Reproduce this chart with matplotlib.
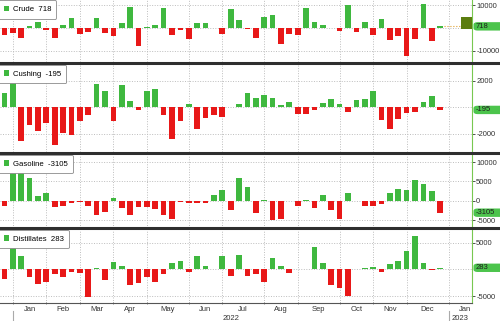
import numpy as np
import matplotlib.pyplot as plt
from matplotlib.patches import Patch, Rectangle, FancyBboxPatch
from matplotlib.lines import Line2D

plt.rcParams['font.family'] = ['Liberation Sans', 'DejaVu Sans']

# weekly changes, thousand barrels (week ending Dec 24 2021 .. Dec 23 2022)
crude = [-3200, -2000, -4500, 700, 2500, -900, -4500, 1200, 4500, -2500,
         -1700, 4200, -2300, -3300, 2300, 9300, -7800, 600, 1500, 8500,
         -3200, -900, -4900, 2200, 2200, 100, -2500, 8400, 3300, -400,
         -4200, 4600, 5500, -6800, -2800, -2900, 8800, 2500, 1200, -100,
         -1200, 10000, -1600, 2600, -2900, 3900, -5100, -3500, -12400, -4900,
         10500, -5700, 718]
cushing = [1050, 1800, -2500, -1300, -1800, -1200, -2800, -1900, -2050, -1000,
           -550, 1750, 1200, -1050, 1650, 450, -200, 1250, 1350, -550,
           -2400, -1050, 220, -1600, -800, -600, -750, 30, 280, 1100,
           725, 900, 700, 150, 400, -525, -475, -175, 300, 625,
           225, -325, 550, 650, 1225, -950, -1650, -875, -400, -375,
           400, 825, -195]
gasoline = [-1500, 10100, 8000, 5900, 1300, 2070, -1600, -1400, -500, -400,
            -1400, -3600, -2900, 700, -2000, -3600, -1700, -1700, -2200, -3600,
            -4800, -400, -700, -700, -700, 1400, 2750, -2500, 5800, 3500,
            -3300, 100, -5000, -4800, -100, -1300, 300, -1800, 1600, -2500,
            -4800, 2000, -100, -1500, -1300, -950, 2100, 3000, 2700, 5400,
            4400, 2500, -3105]
distillates = [-1750, 4400, 2550, -1350, -2750, -2400, -850, -1500, -550, -600,
               -5250, 250, -2050, 1400, 700, -2900, -2600, -1350, -2350, -850,
               1200, 1600, -450, 2550, 700, 100, 2550, -1200, 2700, -1300,
               -900, -2450, 2050, 700, -600, 50, 100, 4100, 1150, -2900,
               -3550, -4900, 100, 150, 400, -500, 1000, 1600, 3500, 6200,
               1250, -200, 283]

names = ["Crude", "Cushing", "Gasoline", "Distillates"]
series = [crude, cushing, gasoline, distillates]
ylims = [(-14800, 12200), (-3350, 3210), (-7070, 11970), (-6300, 7440)]
yticks = [[-10000, 10000], [-2000, 2000], [-5000, 0, 5000, 10000], [-5000, 5000]]
# pixel rows (top, bottom) of each panel
rows = [(0, 62), (64.5, 152), (154.5, 228), (229.5, 303)]

months = ["Jan", "Feb", "Mar", "Apr", "May", "Jun", "Jul", "Aug", "Sep",
          "Oct", "Nov", "Dec", "Jan"]
month_lines = [1, 5, 9, 13, 17, 22, 26, 31, 35, 40, 44, 48, 53, 57]

GREEN = '#3fb83f'
RED = '#e81818'
W, H = 500, 321

fig = plt.figure(figsize=(5, 3.21), dpi=100)
axes = []
for name, vals, yl, yt, (top, bot) in zip(names, series, ylims, yticks, rows):
    ax = fig.add_axes([0, 1 - bot / H, 472 / W, (bot - top) / H])
    axes.append(ax)
    x = np.arange(len(vals))
    v = np.array(vals)
    ax.bar(x, v, width=0.68, color=np.where(v >= 0, GREEN, RED), zorder=2)
    ax.set_xlim(-0.53, 55.8)
    ax.set_ylim(*yl)
    for gx in month_lines[:-1]:
        ax.axvline(gx, color='#bdbdbd', ls=(0, (1, 1.6)), lw=0.7, zorder=1)
    for gy in set(yt) | {0}:
        ax.axhline(gy, color='#bdbdbd', ls=(0, (1, 1.6)), lw=0.7, zorder=1)
    ax.yaxis.tick_right()
    ax.set_yticks(yt)
    ax.set_yticklabels([str(t) for t in yt])
    ax.tick_params(axis='y', labelsize=5.5, length=2, width=0.6,
                   colors='#333333', pad=1)
    ax.set_xticks([])
    for s in ['top', 'left', 'bottom']:
        ax.spines[s].set_visible(False)
    ax.spines['right'].set_color('#78c850')
    ax.spines['right'].set_linewidth(0.8)
    last = vals[-1]
    leg = ax.legend(handles=[Patch(fc=GREEN, ec='none')],
                    labels=[f"{name}  {last}"], loc='upper left',
                    bbox_to_anchor=(-0.004, 0.995), fontsize=5.6,
                    handlelength=0.75, handleheight=0.75, handletextpad=0.4,
                    borderpad=0.7, borderaxespad=0, fancybox=True,
                    framealpha=1, edgecolor='#8a8a8a')
    leg.get_frame().set_linewidth(0.6)
    leg.set_zorder(6)
    # green value pill on the right axis
    ypx = ax.transData.transform((0, last))[1]
    fig.add_artist(FancyBboxPatch((473.5 / W, (ypx - 4.2) / H), 40 / W, 8.4 / H,
                                  boxstyle='round,pad=0,rounding_size=0.008',
                                  transform=fig.transFigure, fc='#4cc44c',
                                  ec='none', zorder=7))
    fig.text(476 / W, ypx / H, f"{last}", ha='left', va='center',
             fontsize=5.5, color='#1e1e1e', zorder=8)

# crude: latest marker box and guide line
ax0 = axes[0]
ax0.add_patch(Rectangle((54.5, -400), 1.3, 5200, fc='#5b7d0f', ec='none', zorder=3))
ax0.plot([52.4, 54.5], [crude[-1], crude[-1]], ls=':', color='#e0a030', lw=0.8, zorder=3)

# bottom axis
axb = axes[-1]
axb.spines['bottom'].set_visible(True)
axb.spines['bottom'].set_color('#555555')
axb.spines['bottom'].set_linewidth(0.8)
mids = [(a + b) / 2 for a, b in zip(month_lines[:-1], month_lines[1:])]
axb.set_xticks(mids)
axb.set_xticklabels(months)
axb.tick_params(axis='x', length=0, labelsize=5.5, colors='#333333', pad=2.3)
axb.set_xticks(month_lines[:-1], minor=True)
axb.tick_params(axis='x', which='minor', length=2, width=0.6, color='#777777',
                direction='inout')
hb = rows[-1][1] - rows[-1][0]
for yx in [1, 53]:
    axb.plot([yx, yx], [-(311 - 303) / hb, -(321 - 303) / hb],
             transform=axb.get_xaxis_transform(), clip_on=False,
             color='#aaaaaa', lw=0.8)
axb.text(27, -(318 - 303) / hb, "2022", transform=axb.get_xaxis_transform(),
         ha='center', va='center', fontsize=5.5, color='#333333')
axb.text(53.4, -(318 - 303) / hb, "2023", transform=axb.get_xaxis_transform(),
         ha='left', va='center', fontsize=5.5, color='#333333')

# panel separators
for yp in [63.3, 153.3, 228.3]:
    fig.add_artist(Line2D([0, 1], [1 - yp / H, 1 - yp / H], color='#2e2e2e',
                          lw=2.2, transform=fig.transFigure))

fig.savefig("out.png", dpi=100)
